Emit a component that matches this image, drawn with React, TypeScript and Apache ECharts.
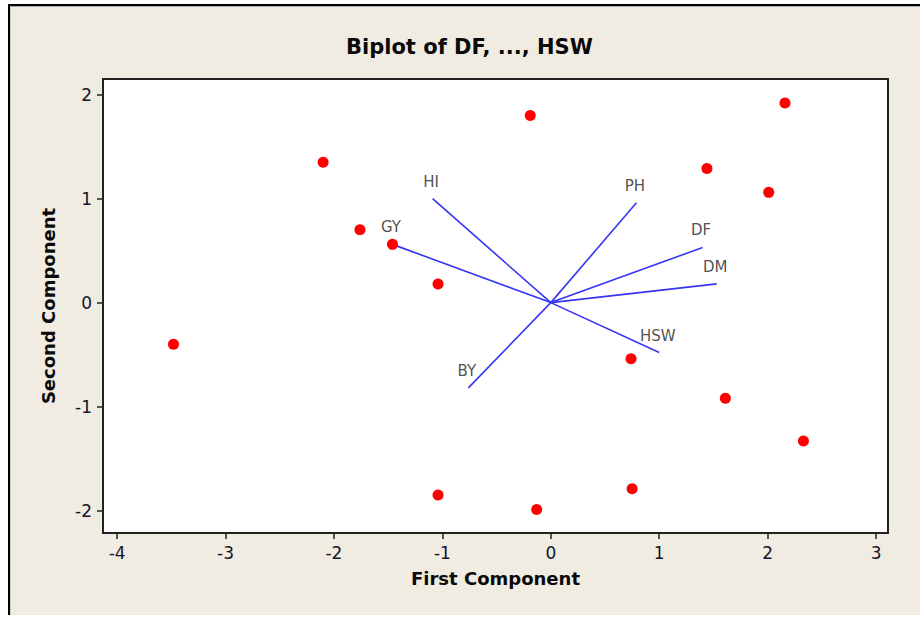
import React, { useEffect, useRef } from 'react';
import * as echarts from 'echarts';

// Scores (observations)
const scoreX = [-3.48, -2.10, -1.76, -1.46, -1.04, -1.04, -0.19, -0.13, 0.74, 0.75, 1.44, 1.61, 2.01, 2.16, 2.33];
const scoreY = [-0.40, 1.35, 0.70, 0.56, 0.18, -1.85, 1.80, -1.99, -0.54, -1.79, 1.29, -0.92, 1.06, 1.92, -1.33];

// Variable loading vectors
const vectorNames = ['DF', 'PH', 'DM', 'HI', 'GY', 'BY', 'HSW'];
const vectorX = [1.40, 0.79, 1.53, -1.09, -1.46, -0.76, 1.00];
const vectorY = [0.53, 0.96, 0.18, 1.00, 0.56, -0.82, -0.48];

const xTicks = [-4, -3, -2, -1, 0, 1, 2, 3];
const yTicks = [-2, -1, 0, 1, 2];

const FONT = 'DejaVu Sans';
const BLUE = '#3535f5';
const BG = '#F0ECE2';

export default function App() {
  const ref = useRef<HTMLDivElement>(null);

  useEffect(() => {
    document.body.style.margin = '0';
    if (!ref.current) return;
    const chart = echarts.init(ref.current, undefined, { renderer: 'svg' });

    const vectorSeries = vectorNames.map((n, i) => ({
      type: 'line',
      name: n,
      data: [[0, 0], [vectorX[i], vectorY[i]]],
      symbol: 'none',
      lineStyle: { color: BLUE, width: 1.6 },
      silent: true,
      z: 2,
    }));

    const axisCommon = {
      type: 'value',
      axisLine: { show: true, onZero: false, lineStyle: { color: '#222', width: 2 } },
      splitLine: { show: false },
      nameLocation: 'middle',
      nameTextStyle: { fontWeight: 'bold', fontSize: 18, color: '#0a0a0a', fontFamily: FONT },
    };

    chart.setOption({
      animation: false,
      backgroundColor: BG,
      title: {
        text: 'Biplot of DF, ..., HSW',
        left: 341,
        top: 31,
        textStyle: { fontFamily: FONT, fontWeight: 'bold', fontSize: 21, color: '#0a0a0a' },
      },
      grid: {
        left: 103,
        right: 32,
        top: 79,
        bottom: 84,
        show: true,
        backgroundColor: '#ffffff',
        borderColor: '#222',
        borderWidth: 2,
      },
      xAxis: {
        ...axisCommon,
        min: -4.13,
        max: 3.11,
        name: 'First Component',
        nameGap: 36,
        axisTick: { show: true, customValues: xTicks, length: 6, lineStyle: { color: '#222', width: 1.5 } },
        axisLabel: { customValues: xTicks, fontSize: 17, color: '#14142a', margin: 11, fontFamily: FONT },
      },
      yAxis: {
        ...axisCommon,
        min: -2.215,
        max: 2.15,
        name: 'Second Component',
        nameGap: 46,
        axisTick: { show: true, customValues: yTicks, length: 6, lineStyle: { color: '#222', width: 1.5 } },
        axisLabel: { customValues: yTicks, fontSize: 17, color: '#14142a', margin: 11, fontFamily: FONT },
      },
      graphic: [
        { type: 'rect', shape: { x: 0, y: 0, width: 920, height: 4 }, style: { fill: '#fff' }, silent: true },
        { type: 'rect', shape: { x: 0, y: 0, width: 8, height: 617 }, style: { fill: '#fff' }, silent: true },
        { type: 'rect', shape: { x: 0, y: 615, width: 920, height: 2 }, style: { fill: '#fff' }, silent: true },
        { type: 'line', shape: { x1: 8, y1: 5, x2: 920, y2: 5 }, style: { stroke: '#000', lineWidth: 2 }, silent: true },
        { type: 'line', shape: { x1: 9, y1: 6.5, x2: 920, y2: 6.5 }, style: { stroke: '#aaa', lineWidth: 1 }, silent: true },
        { type: 'line', shape: { x1: 9, y1: 4, x2: 9, y2: 615 }, style: { stroke: '#000', lineWidth: 2 }, silent: true },
        { type: 'line', shape: { x1: 10.5, y1: 6, x2: 10.5, y2: 615 }, style: { stroke: '#ccc', lineWidth: 1 }, silent: true },
      ],
      series: [
        ...vectorSeries,
        {
          type: 'scatter',
          name: 'labels',
          data: vectorNames.map((n, i) => ({ name: n, value: [vectorX[i], vectorY[i]] })),
          symbol: 'circle',
          symbolSize: 1,
          itemStyle: { color: 'rgba(0,0,0,0)' },
          silent: true,
          z: 3,
          label: {
            show: true,
            formatter: '{b}',
            position: 'inside',
            offset: [-1.5, -17],
            color: '#222',
            fontSize: 15,
            fontFamily: FONT,
          },
        },
        {
          type: 'scatter',
          name: 'scores',
          data: scoreX.map((x, i) => [x, scoreY[i]]),
          symbol: 'circle',
          symbolSize: 11,
          itemStyle: { color: '#ff0000', opacity: 1 },
          silent: true,
          z: 4,
        },
      ],
    });

    return () => chart.dispose();
  }, []);

  return <div ref={ref} style={{ width: 920, height: 617 }} />;
}
